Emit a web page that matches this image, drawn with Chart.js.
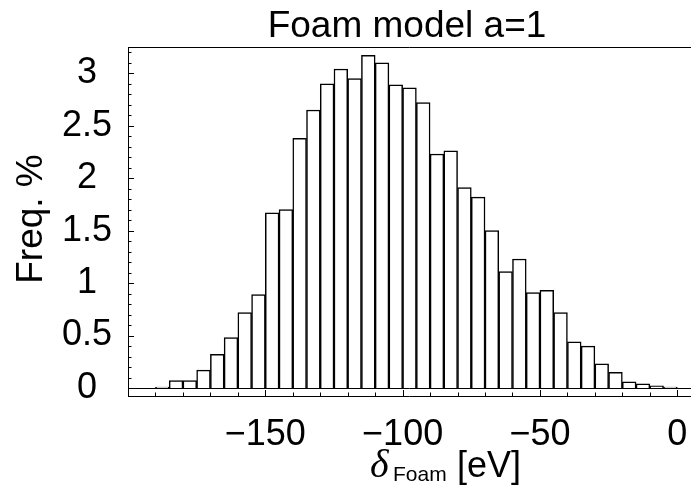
<!DOCTYPE html>
<html>
<head>
<meta charset="utf-8">
<script src="https://cdn.jsdelivr.net/npm/chart.js@4.4.1/dist/chart.umd.min.js"></script>
<style>
  html, body { margin: 0; padding: 0; background: #fff; }
</style>
</head>
<body>
<canvas id="myChart" width="691" height="487"></canvas>
<script>
// histogram bins (left edge, width 5 eV) and frequencies in %
const binStarts = [-190, -185, -180, -175, -170, -165, -160, -155, -150, -145,
  -140, -135, -130, -125, -120, -115, -110, -105, -100, -95,
  -90, -85, -80, -75, -70, -65, -60, -55, -50, -45,
  -40, -35, -30, -25, -20, -15, -10, -5];
const freqs = [0.01, 0.07, 0.07, 0.17, 0.32, 0.48, 0.72, 0.89, 1.67, 1.70,
  2.38, 2.65, 2.90, 3.04, 2.95, 3.17, 3.10, 2.89, 2.86, 2.72,
  2.23, 2.26, 1.91, 1.82, 1.50, 1.11, 1.23, 0.91, 0.93, 0.72,
  0.44, 0.40, 0.23, 0.15, 0.06, 0.04, 0.02, 0.01];
const binWidth = 5;
const xTickValues = [-150, -100, -50, 0];
const yTickValues = [0, 0.5, 1, 1.5, 2, 2.5, 3];

const points = binStarts.map((s, i) => ({ x: s + binWidth / 2, y: freqs[i] }));

const SANS = "'Liberation Sans', Arial, Helvetica, sans-serif";

// frame, zero line, inward ticks and the titles (Mathematica look)
const framePlugin = {
  id: 'frame',
  afterDraw(chart) {
    const ctx = chart.ctx;
    const { left, right, top, bottom } = chart.chartArea;
    const xs = chart.scales.x, ys = chart.scales.y;
    ctx.save();
    ctx.strokeStyle = '#000';
    ctx.lineWidth = 1;
    ctx.beginPath();
    ctx.moveTo(left + 0.5, top + 0.5); ctx.lineTo(right, top + 0.5);
    ctx.moveTo(left + 0.5, top); ctx.lineTo(left + 0.5, bottom);
    ctx.moveTo(left, bottom + 0.5); ctx.lineTo(right, bottom + 0.5);
    const y0 = Math.round(ys.getPixelForValue(0)) + 0.5;
    ctx.moveTo(left, y0); ctx.lineTo(right, y0);
    ctx.stroke();

    ctx.beginPath();
    for (let v = -190; v <= 0; v += 10) {
      const px = Math.round(xs.getPixelForValue(v)) + 0.5;
      const len = v % 50 === 0 ? 6 : 3.5;
      ctx.moveTo(px, bottom); ctx.lineTo(px, bottom - len);
    }
    for (let i = 0; i <= 32; i++) {
      const py = Math.round(ys.getPixelForValue(i / 10)) + 0.5;
      const len = i % 5 === 0 ? 6 : 3.5;
      ctx.moveTo(left, py); ctx.lineTo(left + len, py);
    }
    ctx.stroke();

    ctx.fillStyle = '#000';
    ctx.textBaseline = 'alphabetic';
    ctx.textAlign = 'center';
    ctx.font = '37px ' + SANS;
    ctx.fillText('Foam model a=1', 407, 37);

    ctx.save();
    ctx.translate(42, 219);
    ctx.rotate(-Math.PI / 2);
    ctx.font = '37px ' + SANS;
    ctx.fillText('Freq. %', 0, 0);
    ctx.restore();

    ctx.textAlign = 'left';
    ctx.font = 'italic 40px "Liberation Serif", "DejaVu Serif", serif';
    ctx.fillText('\u03b4', 370, 477);
    ctx.font = '21px ' + SANS;
    ctx.fillText('Foam', 393, 481);
    ctx.font = '36px ' + SANS;
    ctx.fillText('[eV]', 457, 477);
    ctx.restore();
  }
};

new Chart(document.getElementById('myChart'), {
  type: 'bar',
  data: {
    datasets: [{
      data: points,
      backgroundColor: '#fff',
      borderColor: '#000',
      borderWidth: 1.5,
      barPercentage: 1,
      categoryPercentage: 1
    }]
  },
  options: {
    responsive: false,
    animation: false,
    devicePixelRatio: 1,
    layout: { padding: { top: 47, right: 0, left: 0, bottom: 0 } },
    plugins: { legend: { display: false }, tooltip: { enabled: false }, title: { display: false } },
    scales: {
      x: {
        type: 'linear',
        min: -200,
        max: 5,
        offset: false,
        grid: { display: false },
        border: { display: false },
        afterBuildTicks: (s) => { s.ticks = xTickValues.map(v => ({ value: v })); },
        afterFit: (s) => { s.height = 91; s.paddingLeft = 0; s.paddingRight = 0; },
        ticks: {
          autoSkip: false,
          maxRotation: 0,
          padding: 9,
          color: '#000',
          font: { family: SANS, size: 36 },
          callback: (v) => (v < 0 ? '\u2212' + Math.abs(v) : String(v))
        }
      },
      y: {
        min: -0.076,
        max: 3.25,
        grid: { display: false },
        border: { display: false },
        afterBuildTicks: (s) => { s.ticks = yTickValues.map(v => ({ value: v })); },
        afterFit: (s) => { s.width = 128; s.paddingTop = 0; s.paddingBottom = 0; },
        ticks: {
          padding: 8,
          crossAlign: 'center',
          color: '#000',
          font: { family: SANS, size: 36 },
          callback: (v) => String(v)
        }
      }
    }
  },
  plugins: [framePlugin]
});
</script>
</body>
</html>
